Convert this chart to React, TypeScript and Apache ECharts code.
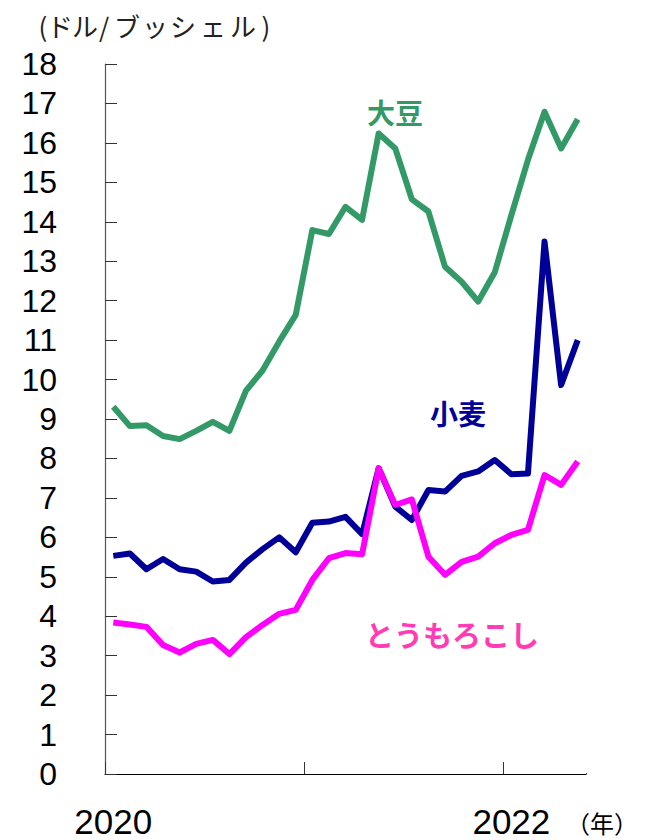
import React, { useEffect, useRef } from "react";
import * as echarts from "echarts";

const months: string[] = [];
for (let y = 2020; y <= 2022; y++) {
  for (let m = 1; m <= 12; m++) {
    if (y === 2022 && m > 5) break;
    months.push(`${y}-${String(m).padStart(2, "0")}`);
  }
}

const soybean = [9.31, 8.82, 8.84, 8.57, 8.49, 8.7, 8.93, 8.7, 9.72, 10.23, 10.96, 11.64, 13.79, 13.69, 14.38, 14.05, 16.24, 15.86, 14.57, 14.26, 12.86, 12.48, 11.98, 12.72, 14.17, 15.57, 16.79, 15.86, 16.6];
const wheat = [5.53, 5.59, 5.19, 5.45, 5.19, 5.13, 4.88, 4.92, 5.36, 5.7, 6.0, 5.62, 6.37, 6.4, 6.52, 6.08, 7.75, 6.78, 6.44, 7.2, 7.16, 7.56, 7.67, 7.96, 7.6, 7.62, 13.5, 9.86, 11.0];
const corn = [3.84, 3.79, 3.73, 3.27, 3.08, 3.3, 3.4, 3.04, 3.47, 3.78, 4.06, 4.16, 4.92, 5.47, 5.6, 5.57, 7.75, 6.82, 6.96, 5.51, 5.05, 5.38, 5.51, 5.85, 6.06, 6.19, 7.58, 7.33, 7.92];

const yearLabels = ["2020", "2022"];
const seriesNames = ["大豆", "小麦", "とうもろこし"];
const unitChars = ["(", "ド", "ル", "/", "ブ", "ッ", "シ", "ェ", "ル", ")"];
const unitCenters = [43, 60, 85, 104, 127, 155, 183, 213, 243, 266];

const NUM_FONT = "'Liberation Sans', Arial, sans-serif";
const JP_FONT = "'Noto Sans CJK JP', sans-serif";

const GRID = { left: 105, right: 62, top: 64, bottom: 66 };
const W = 648;
const H = 840;

export default function App() {
  const ref = useRef<HTMLDivElement>(null);
  useEffect(() => {
    document.body.style.margin = "0";
    if (!ref.current) return;
    const chart = echarts.init(ref.current, null, { renderer: "svg" });
    const unitTexts = unitChars.map((c, i) => ({
      type: "text",
      x: unitCenters[i],
      y: 25,
      style: { text: c, fontSize: 26, fontFamily: JP_FONT, fill: "#222", align: "center", verticalAlign: "middle" },
    }));
    const axisEndX = W - GRID.right;
    const axisY = H - GRID.bottom;
    chart.setOption({
      animation: false,
      grid: { ...GRID, containLabel: false },
      xAxis: {
        type: "category",
        data: months,
        boundaryGap: true,
        axisLine: { show: true, lineStyle: { color: "#000", width: 1.2 } },
        axisTick: { show: true, inside: true, length: 12, interval: (i: number) => i % 12 === 0, lineStyle: { color: "#333" } },
        axisLabel: {
          interval: (i: number) => i === 0 || i === 24,
          formatter: (v: string) => (yearLabels.includes(v.slice(0, 4)) ? v.slice(0, 4) : ""),
          fontSize: 35,
          fontFamily: NUM_FONT,
          color: "#000",
          margin: 30,
        },
        splitLine: { show: false },
      },
      yAxis: {
        type: "value",
        min: 0,
        max: 18,
        interval: 1,
        axisLine: { show: true, lineStyle: { color: "#555", width: 1.2 } },
        axisTick: { show: true, inside: true, length: 12, lineStyle: { color: "#333" } },
        axisLabel: { fontSize: 32, fontFamily: NUM_FONT, color: "#000", margin: 48 },
        splitLine: { show: false },
      },
      series: [
        { name: seriesNames[0], type: "line", data: soybean, symbol: "none", lineStyle: { color: "#339966", width: 6, join: "round" }, itemStyle: { color: "#339966" } },
        { name: seriesNames[1], type: "line", data: wheat, symbol: "none", lineStyle: { color: "#000099", width: 6, join: "round" }, itemStyle: { color: "#000099" } },
        { name: seriesNames[2], type: "line", data: corn, symbol: "none", lineStyle: { color: "#FF00FF", width: 6, join: "round" }, itemStyle: { color: "#FF00FF" } },
      ],
      graphic: [
        // hide the closing boundary tick at the right end of the x axis
        { type: "rect", shape: { x: axisEndX - 5, y: axisY - 16, width: 12, height: 15 }, style: { fill: "#fff" }, z: 100 },
        ...unitTexts,
        { type: "text", x: 602, y: 822, style: { text: "（年）", fontSize: 24, fontFamily: JP_FONT, fill: "#000", align: "center", verticalAlign: "middle" } },
        { type: "text", x: 395, y: 112, style: { text: seriesNames[0], fontSize: 28, fontWeight: "bold", fontFamily: JP_FONT, fill: "#339966", align: "center", verticalAlign: "middle" } },
        { type: "text", x: 458, y: 413, style: { text: seriesNames[1], fontSize: 28, fontWeight: "bold", fontFamily: JP_FONT, fill: "#000099", align: "center", verticalAlign: "middle" } },
        { type: "text", x: 452, y: 634, style: { text: seriesNames[2], fontSize: 29, fontWeight: "bold", fontFamily: JP_FONT, fill: "#FF3CB4", align: "center", verticalAlign: "middle" } },
      ],
    });
    return () => chart.dispose();
  }, []);
  return <div ref={ref} style={{ position: "absolute", left: 0, top: 0, width: W, height: H }} />;
}
